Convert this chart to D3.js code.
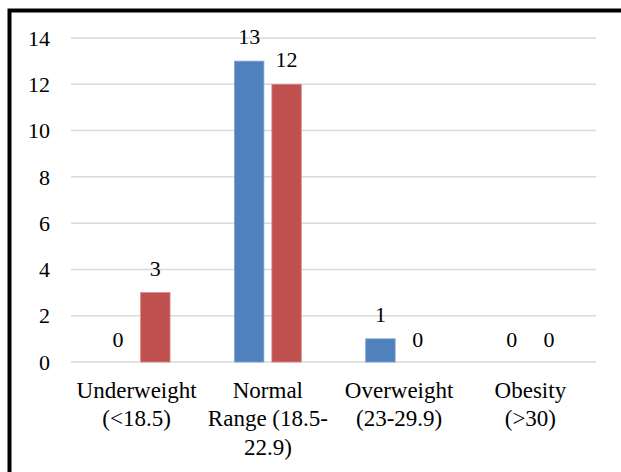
<!DOCTYPE html>
<html>
<head>
<meta charset="utf-8">
<script src="https://cdn.jsdelivr.net/npm/d3@7"></script>
<style>
html,body{margin:0;padding:0;background:#fff;}
svg{display:block;}
</style>
</head>
<body>
<svg id="chart" width="621" height="472"></svg>
<script>
const categories = ["Underweight (<18.5)", "Normal Range (18.5-22.9)", "Overweight (23-29.9)", "Obesity (>30)"];
const categoryLines = [["Underweight", "(<18.5)"], ["Normal", "Range (18.5-", "22.9)"], ["Overweight", "(23-29.9)"], ["Obesity", "(>30)"]];
const seriesNames = ["Series1", "Series2"];
const series1 = [0, 13, 1, 0];
const series2 = [3, 12, 0, 0];
const yTicks = [0, 2, 4, 6, 8, 10, 12, 14];
const colors = ["#4f81bd", "#c0504d"];
const FONT = "'Liberation Serif'";
const FS = "22px";

const svg = d3.select("#chart");
const W = 621, H = 472;
svg.append("rect").attr("width", W).attr("height", H).attr("fill", "#fff");

const x0 = d3.scaleBand().domain(categories).range([71, 596]).paddingInner(0).paddingOuter(0);
const x1 = d3.scaleBand().domain(seriesNames).range([0, x0.bandwidth()]).paddingInner(0.214).paddingOuter(0.861);
const y = d3.scaleLinear().domain([0, 14]).range([362, 38]);

// gridlines
svg.append("g").selectAll("line").data(yTicks).join("line")
  .attr("x1", 71).attr("x2", 596)
  .attr("y1", d => y(d)).attr("y2", d => y(d))
  .attr("stroke", "#d9d9d9").attr("stroke-width", 1.5);

// y axis labels
const yAxis = d3.axisLeft(y).tickValues(yTicks).tickSize(0).tickPadding(0).tickFormat(d3.format("d"));
const ya = svg.append("g").attr("transform", "translate(50,0)").call(yAxis);
ya.attr("font-family", null).attr("font-size", null);
ya.select(".domain").remove();
ya.selectAll("text").style("font-family", FONT).style("font-size", FS).attr("fill", "#000").attr("dy", "0.33em");

// bars
const data = categories.map((c, i) => ({cat: c, vals: [series1[i], series2[i]]}));
const groups = svg.append("g").selectAll("g").data(data).join("g")
  .attr("transform", d => `translate(${x0(d.cat)},0)`);
groups.selectAll("rect").data(d => d.vals.map((v, j) => ({s: seriesNames[j], v, j}))).join("rect")
  .attr("x", d => x1(d.s)).attr("width", x1.bandwidth())
  .attr("y", d => y(d.v)).attr("height", d => y(0) - y(d.v))
  .attr("fill", d => colors[d.j])
  .attr("stroke", d => d.j === 0 ? "#7aa1d2" : "#d48a88").attr("stroke-width", d => d.v > 0 ? 0.8 : 0);
groups.selectAll("text").data(d => d.vals.map((v, j) => ({s: seriesNames[j], v, j}))).join("text")
  .attr("x", d => x1(d.s) + x1.bandwidth() / 2)
  .attr("y", d => y(d.v) - (d.v > 0 ? 17 : 15.5))
  .attr("text-anchor", "middle")
  .style("font-family", FONT).style("font-size", FS).attr("fill", "#000")
  .text(d => d.v);

// category labels
const cl = svg.append("g").selectAll("text").data(categories).join("text")
  .attr("x", d => x0(d) + x0.bandwidth() / 2)
  .attr("y", 398)
  .attr("text-anchor", "middle")
  .style("font-family", FONT).style("font-size", "23px").attr("fill", "#000");
cl.each(function(d, i) {
  const t = d3.select(this);
  categoryLines[i].forEach((ln, k) => {
    t.append("tspan").attr("x", x0(d) + x0.bandwidth() / 2).attr("y", 398 + k * 28.3).text(ln);
  });
});

// outer border
svg.append("rect").attr("x", 9.5).attr("y", 10.5).attr("width", W + 20).attr("height", H + 20)
  .attr("fill", "none").attr("stroke", "#000").attr("stroke-width", 4);
</script>
</body>
</html>
